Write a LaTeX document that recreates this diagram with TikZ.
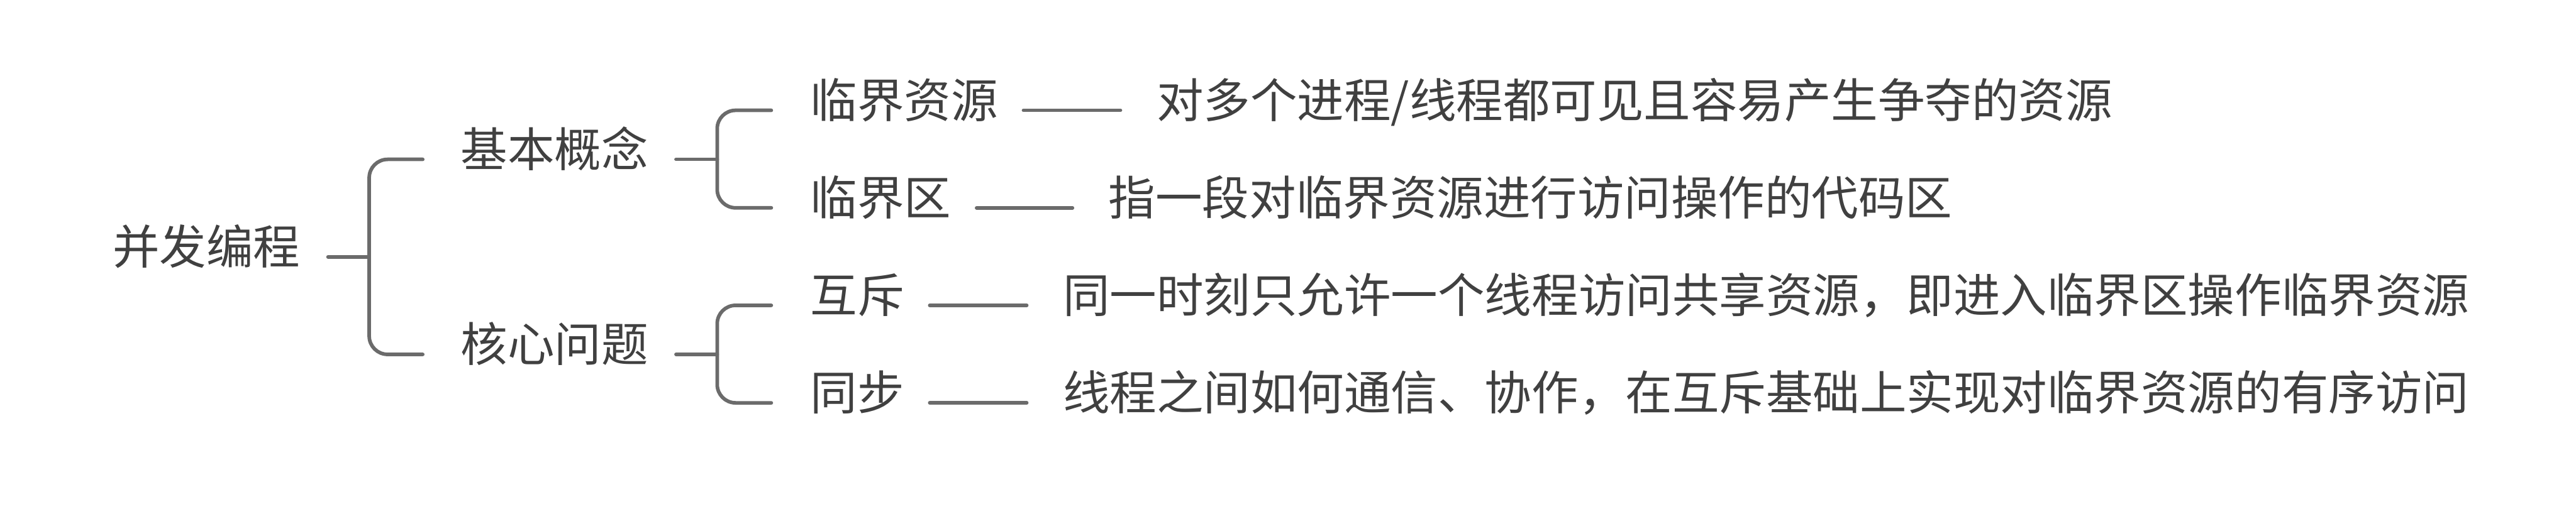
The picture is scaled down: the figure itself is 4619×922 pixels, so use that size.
\documentclass[tikz,border=0pt]{standalone}
\usepackage{fontspec}
\setmainfont{Noto Sans CJK SC}
\begin{document}
\begin{tikzpicture}[x=0.01cm,y=-0.01cm,
  txt/.style={anchor=west,inner sep=0pt,outer sep=0pt,text=textgrey,
    font=\fontsize{23.9pt}{28pt}\selectfont,text height=0.88em,text depth=0.12em},
  conn/.style={draw=linegrey,line width=0.065cm,line cap=round,line join=round},
  bracket/.style={conn,rounded corners=0.33cm}]
\definecolor{textgrey}{HTML}{404040}
\definecolor{linegrey}{HTML}{6B6B6B}
\useasboundingbox (0,0) rectangle (4619,922);
% nodes
\node[txt] (root) at (202,461) {并发编程};
\node[txt] (b1) at (826,286) {基本概念};
\node[txt] (b2) at (826,636) {核心问题};
\node[txt] (l1) at (1453,198) {临界资源};
\node[txt] (l2) at (1453,373) {临界区};
\node[txt] (l3) at (1453,548) {互斥};
\node[txt] (l4) at (1453,723) {同步};
\node[txt] (d1) at (2074,198) {对多个进程/线程都可见且容易产生争夺的资源};
\node[txt] (d2) at (1988,373) {指一段对临界资源进行访问操作的代码区};
\node[txt] (d3) at (1906,548) {同一时刻只允许一个线程访问共享资源，即进入临界区操作临界资源};
\node[txt] (d4) at (1906,723) {线程之间如何通信、协作，在互斥基础上实现对临界资源的有序访问};
% root bracket
\coordinate (rj) at (662,461);
\draw[conn] ([xshift=0.5cm]root.east) -- (rj);
\draw[bracket] ([xshift=-0.68cm]b1.west) -- (rj |- b1.west) -- (rj |- b2.west) -- ([xshift=-0.68cm]b2.west);
% level-2 brackets
\coordinate (j1) at (1286,286);
\coordinate (j2) at (1286,636);
\draw[conn] ([xshift=0.5cm]b1.east) -- (j1);
\draw[bracket] ([xshift=-0.7cm]l1.west) -- (j1 |- l1.west) -- (j1 |- l2.west) -- ([xshift=-0.7cm]l2.west);
\draw[conn] ([xshift=0.5cm]b2.east) -- (j2);
\draw[bracket] ([xshift=-0.7cm]l3.west) -- (j2 |- l3.west) -- (j2 |- l4.west) -- ([xshift=-0.7cm]l4.west);
% dashes
\foreach \i in {1,2,3,4}{
  \draw[conn] ([xshift=0.46cm]l\i.east) -- ([xshift=-0.65cm]d\i.west);
}
\end{tikzpicture}
\end{document}
